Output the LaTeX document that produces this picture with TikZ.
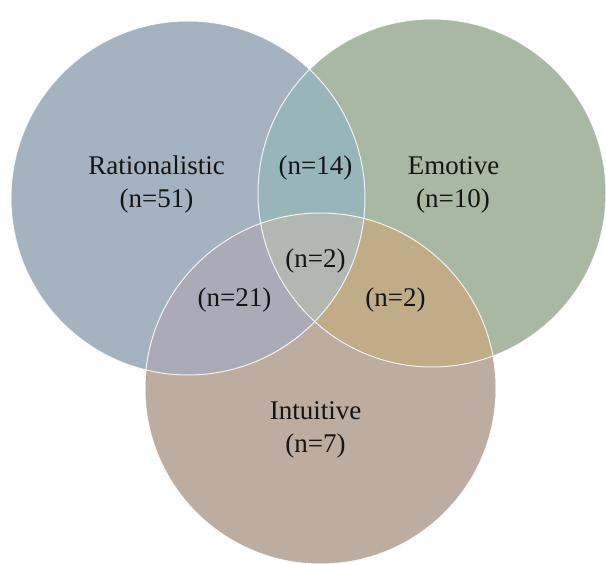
\documentclass[tikz,border=0pt]{standalone}
\usepackage{fontspec}
\setmainfont{Liberation Serif}
\definecolor{cL}{HTML}{A5B2C0}
\definecolor{cR}{HTML}{A9B8A3}
\definecolor{cB}{HTML}{BDACA0}
\definecolor{cLR}{HTML}{98B6BA}
\definecolor{cLB}{HTML}{AAABB6}
\definecolor{cRB}{HTML}{C0AC86}
\definecolor{cLRB}{HTML}{B2B7B2}
\definecolor{txt}{HTML}{141414}
\begin{document}
\begin{tikzpicture}[x=1pt,y=-1pt,
  lbl/.style={text=txt, font=\fontsize{27}{33}\selectfont, inner sep=0pt, anchor=base},
  rim/.style={draw=white, line width=1pt, draw opacity=0.85}]
\useasboundingbox (0,0) rectangle (606,564);
\def\cirL{(188,198) circle (177pt)}
\def\cirR{(432,193) circle (174pt)}
\def\cirB{(320.5,388.5) circle (175.5pt)}
\fill[cL] \cirL;
\fill[cR] \cirR;
\fill[cB] \cirB;
\begin{scope}\clip \cirL; \fill[cLR] \cirR; \end{scope}
\begin{scope}\clip \cirL; \fill[cLB] \cirB; \end{scope}
\begin{scope}\clip \cirR; \fill[cRB] \cirB; \end{scope}
\begin{scope}\clip \cirL; \clip \cirR; \fill[cLRB] \cirB; \end{scope}
\draw[rim] \cirL;
\draw[rim] \cirR;
\draw[rim] \cirB;
\node[lbl] (rat) at (156.7,175) {Rationalistic};
\node[lbl] (ratn) at (156.5,208) {(n=51)};
\node[lbl] (emo) at (453.5,175) {Emotive};
\node[lbl] (emon) at (453,208) {(n=10)};
\node[lbl] (int) at (315.5,420) {Intuitive};
\node[lbl] (intn) at (315.5,453) {(n=7)};
\node[lbl] (lr) at (315.5,175) {(n=14)};
\node[lbl] (lrb) at (315.5,268) {(n=2)};
\node[lbl] (lb) at (234.5,307) {(n=21)};
\node[lbl] (rb) at (395.5,307) {(n=2)};
\end{tikzpicture}
\end{document}
